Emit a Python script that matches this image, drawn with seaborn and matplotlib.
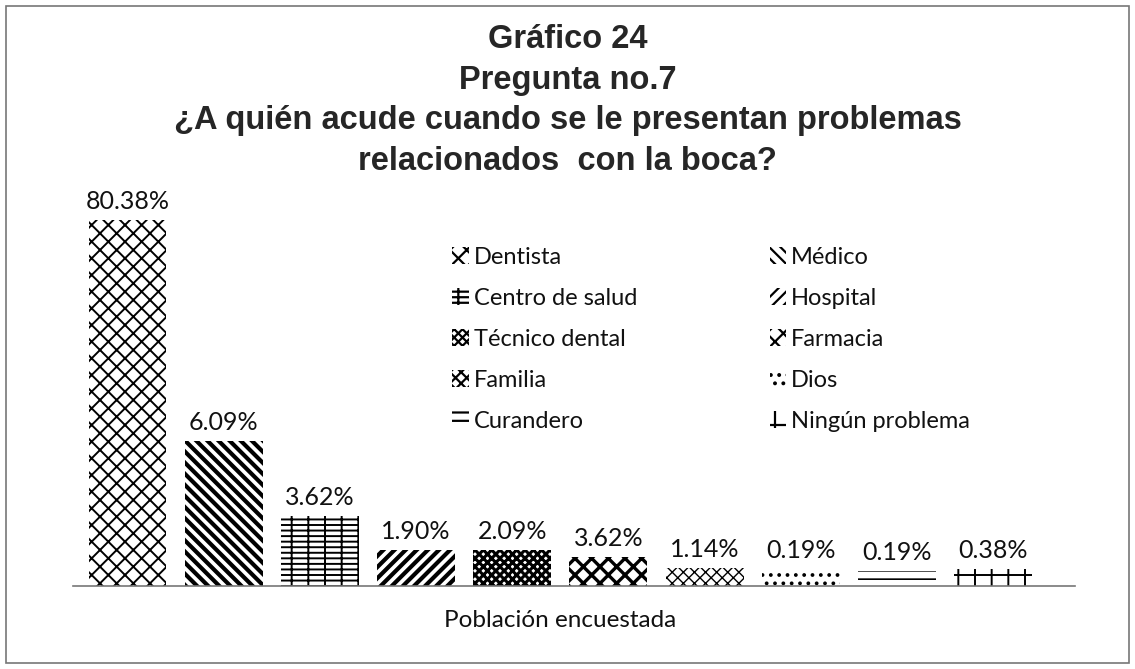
import matplotlib
matplotlib.use("Agg")
import matplotlib.pyplot as plt
import seaborn as sns
import pandas as pd
from matplotlib.patches import Patch, Rectangle

categories = ["Dentista", "Médico", "Centro de salud", "Hospital", "Técnico dental",
              "Farmacia", "Familia", "Dios", "Curandero", "Ningún problema"]
# bar heights as drawn in the picture (not proportional to the printed labels)
bar_heights = [80.38, 31.8, 15.4, 7.9, 7.9, 6.4, 4.0, 3.7, 3.3, 3.7]
value_labels = ["80.38%", "6.09%", "3.62%", "1.90%", "2.09%", "3.62%",
                "1.14%", "0.19%", "0.19%", "0.38%"]
hatches = ["xx", "\\\\\\", "--+", "///", "xxxx", "xx", "xxx", "..", "--", "+"]
hatch_widths = [1.4, 3.0, 1.4, 3.0, 2.2, 2.4, 1.0, 1.5, 1.2, 1.4]
title_lines = ["Gráfico 24", "Pregunta no.7",
               "¿A quién acude cuando se le presentan problemas",
               "relacionados  con la boca?"]

sns.set_theme(style="white")
plt.rcParams["font.family"] = ["Lato", "DejaVu Sans"]
plt.rcParams["hatch.linewidth"] = 1.6

fig = plt.figure(figsize=(11.35, 6.69), dpi=100)
W, H = 1135, 669
fig.patches.append(Rectangle((6 / W, 1 - 663 / H), 1123 / W, 657 / H, transform=fig.transFigure,
                             fill=False, edgecolor="#777777", linewidth=1.2))
ax = fig.add_axes([73 / W, 1 - 586 / H, 1002 / W, 400 / H])

df = pd.DataFrame({"cat": categories, "h": bar_heights})
sns.barplot(data=df, x="cat", y="h", order=categories, color="white", width=0.81,
            edgecolor="black", linewidth=0, ax=ax)


def style_patch(p, hatch, hw):
    p.set_hatch(hatch)
    p.set_facecolor("white")
    p.set_edgecolor("black")
    p.set_linewidth(0)
    if hasattr(p, "set_hatch_linewidth"):
        p.set_hatch_linewidth(hw)


for p, hatch, hw in zip(ax.patches, hatches, hatch_widths):
    style_patch(p, hatch, hw)

for i, (h, lab) in enumerate(zip(bar_heights, value_labels)):
    ax.annotate(lab, (i, h), xytext=(0, 5), textcoords="offset points",
                ha="center", va="bottom", fontsize=18, color="#111111")

ax.set_xlim(-0.567, 9.852)
ax.set_ylim(0, 87.85)
ax.set_xticks([])
ax.set_yticks([])
ax.set_ylabel("")
ax.set_xlabel("Población encuestada", fontsize=17.5, color="#111111")
ax.xaxis.set_label_coords((560 - 73) / 1002, -0.06)
for s in ["top", "right", "left"]:
    ax.spines[s].set_visible(False)
ax.spines["bottom"].set_color("#777777")
ax.spines["bottom"].set_linewidth(1.2)

order = [0, 2, 4, 6, 8, 1, 3, 5, 7, 9]
handles = []
for k in order:
    hp = Patch(facecolor="white", edgecolor="black", linewidth=0, hatch=hatches[k],
               label=categories[k])
    if hasattr(hp, "set_hatch_linewidth"):
        hp.set_hatch_linewidth(hatch_widths[k])
    handles.append(hp)
leg = ax.legend(handles=handles, ncol=2, loc="upper left",
                bbox_to_anchor=(0.369, 0.872), frameon=False, fontsize=17,
                handlelength=0.7, handleheight=0.7, handletextpad=0.22,
                columnspacing=5.6, labelspacing=0.85, borderaxespad=0)
for t in leg.get_texts():
    t.set_color("#111111")

baselines = [48, 89, 129, 170]
for line, yb in zip(title_lines, baselines):
    fig.text(0.5, 1 - yb / H, line, ha="center", va="baseline",
             fontsize=23.5, fontweight="bold", family="Liberation Sans")

fig.savefig("out.png", dpi=100)
